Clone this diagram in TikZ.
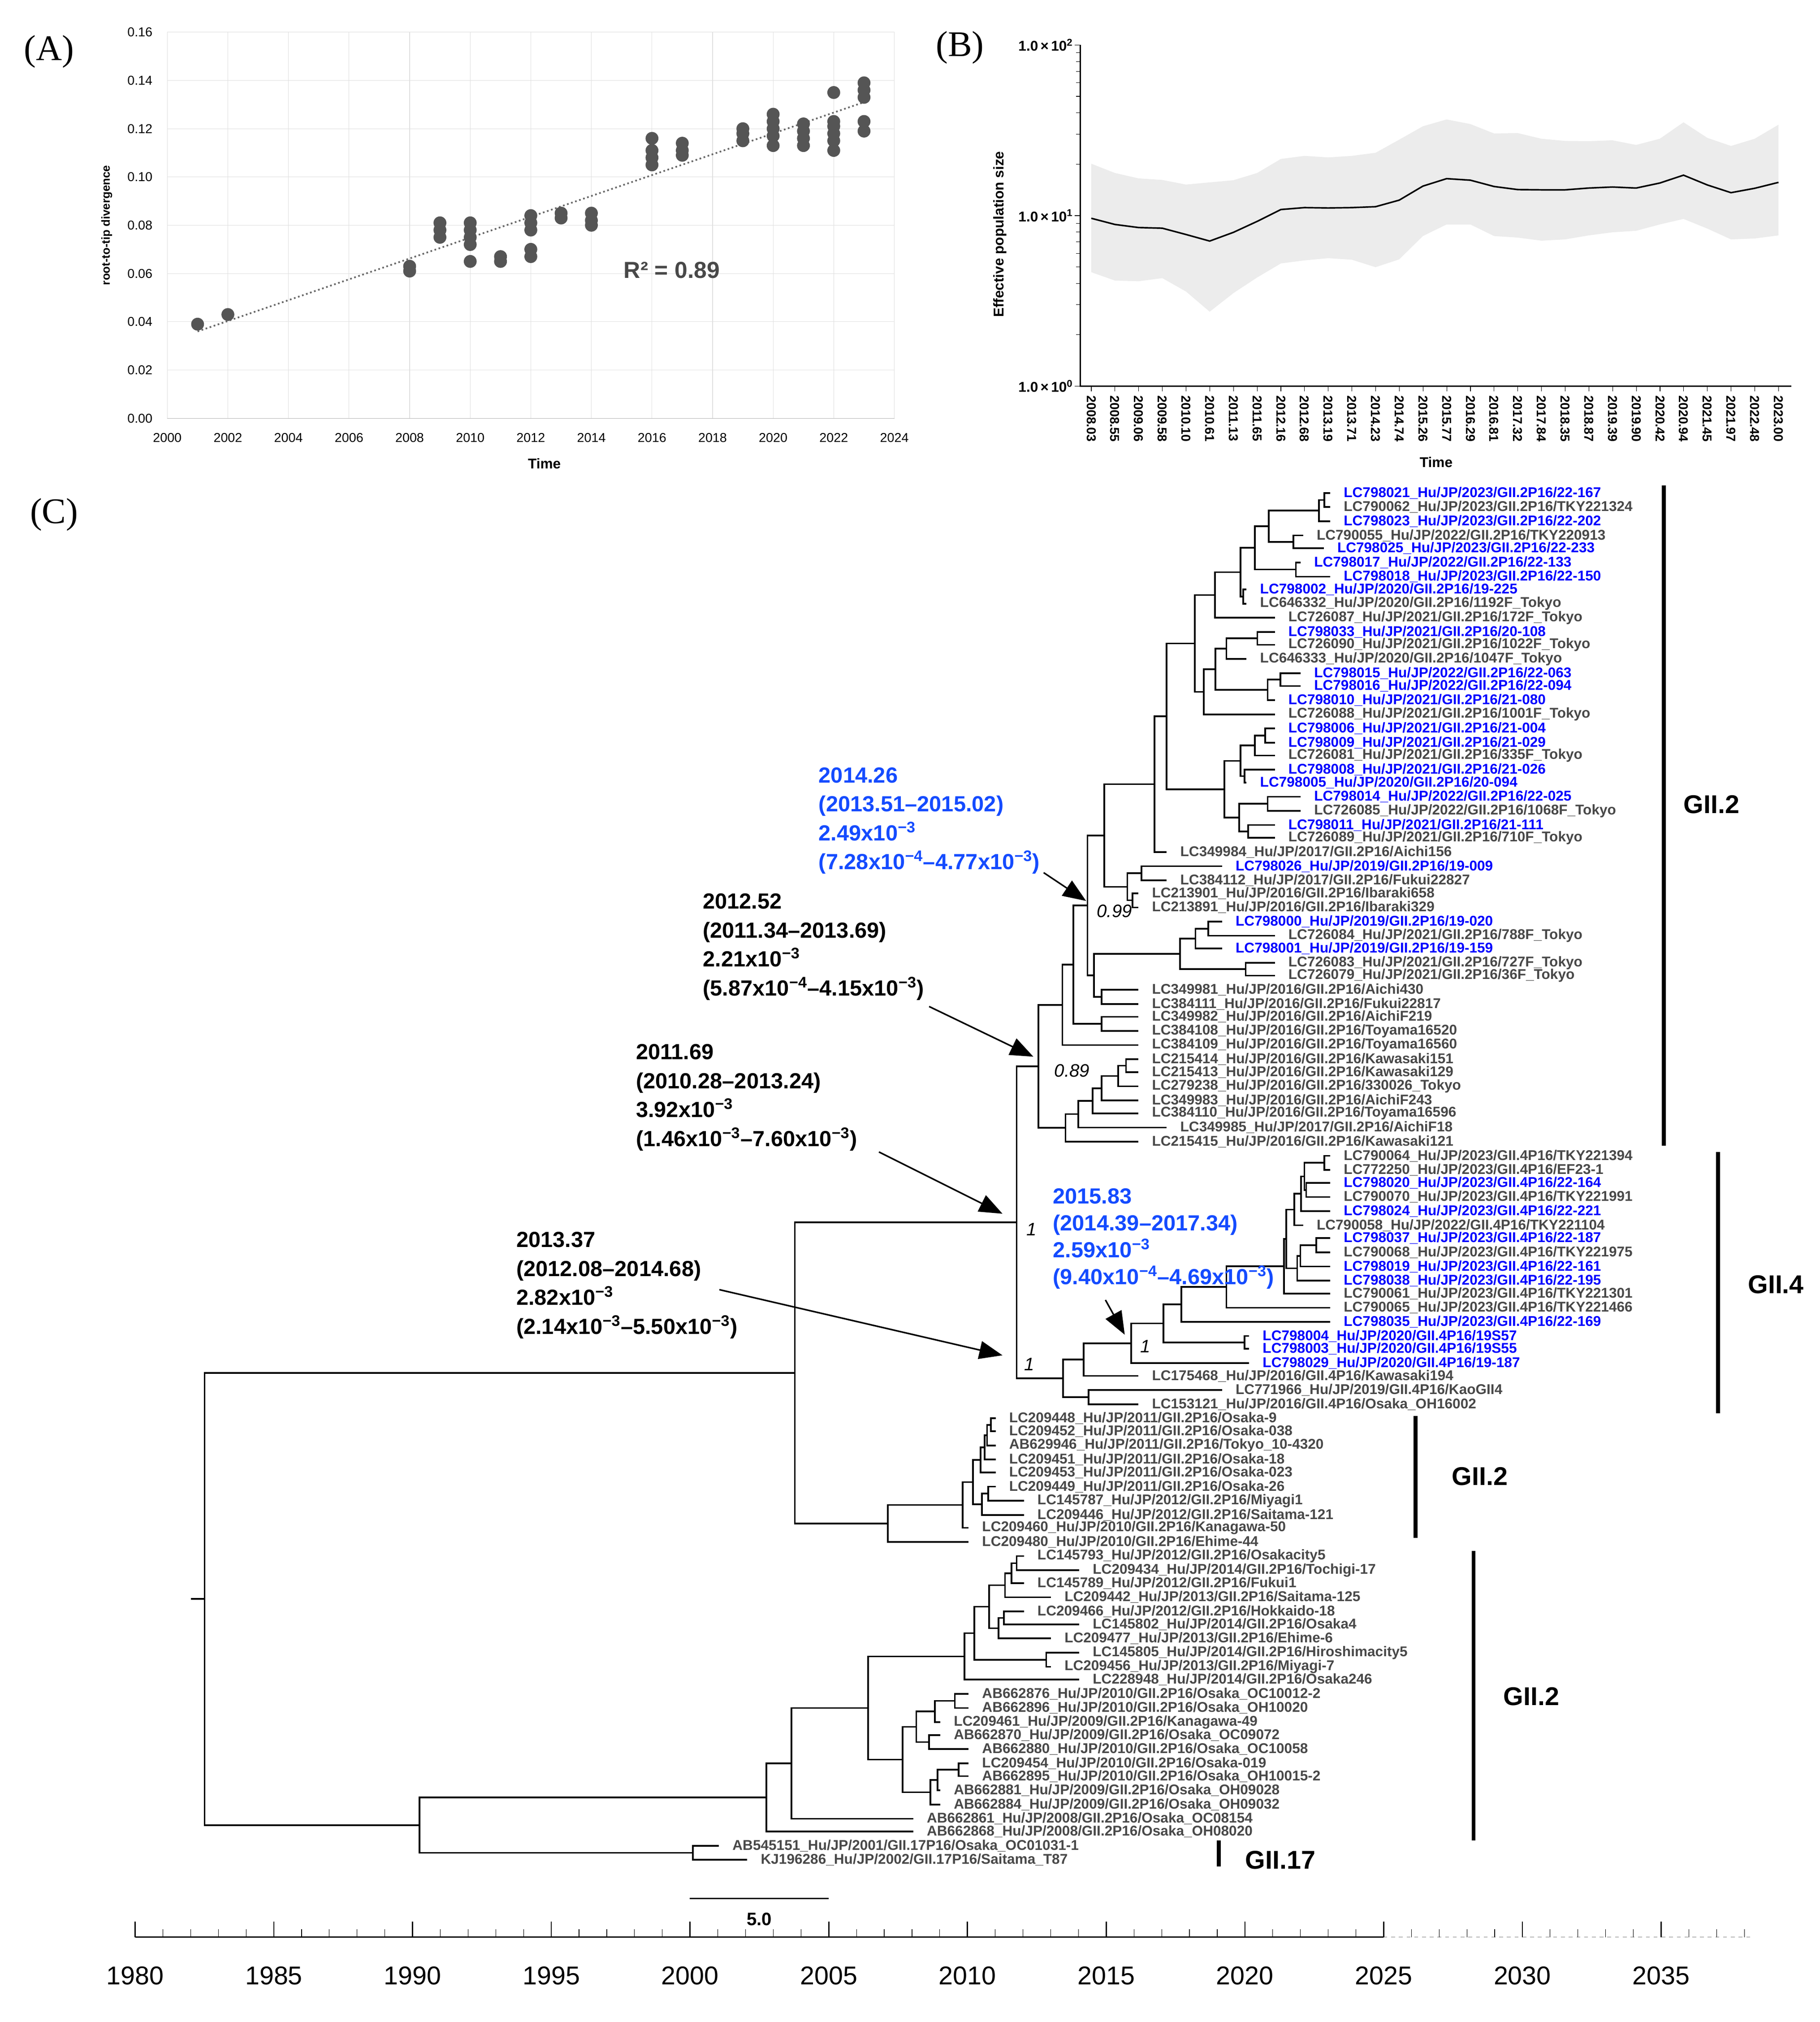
\documentclass[tikz,border=0pt]{standalone}
\usepackage{fontspec}
\setmainfont{Liberation Sans}
\newfontfamily\serifpanel{Liberation Serif}
\usetikzlibrary{calc,arrows.meta}
\definecolor{bl}{RGB}{0,0,255}
\definecolor{abl}{RGB}{20,75,255}
\definecolor{gy}{RGB}{72,72,72}
\definecolor{ptc}{RGB}{85,85,85}
\begin{document}
\begin{tikzpicture}[x=1pt,y=-1pt,
  br/.style={line width=1.3pt,black,line cap=rect},
  leaf/.style={anchor=west,inner ysep=0pt,inner xsep=11pt,font=\fontsize{11}{11}\selectfont\bfseries},
  ann/.style={anchor=north west,align=left,inner sep=0pt,font=\fontsize{17}{22.5}\selectfont\bfseries},
  sup/.style={font=\fontsize{14}{14}\selectfont\itshape,inner sep=0pt},
  arr/.style={line width=1.2pt,-{Triangle[length=18pt,width=14pt]}},
  panel/.style={font=\fontsize{28}{28}\selectfont\serifpanel},
  tick/.style={font=\fontsize{10}{10}\selectfont},
  bar/.style={line width=3pt},
  clade/.style={font=\fontsize{20}{20}\selectfont\bfseries}]
\useasboundingbox (0,0) rectangle (1414,1571);

% ---------- panel A ----------
\node[panel] (pa) at (38,40) {(A)};
\foreach \k in {0,...,12} \draw[gray!25] (130+\k*47.08,25) -- (130+\k*47.08,325);
\foreach \k in {0,...,8} \draw[gray!25] (130,325-\k*37.5) -- (695,325-\k*37.5);
\draw[gray!60] (130,325) -- (695,325);
\foreach \k in {0,...,12} {\pgfmathtruncatemacro\yr{2000+2*\k}
  \node[tick] (ax\k) at (130+\k*47.08,340) {\yr};}
\foreach \k/\t in {0/0.00,1/0.02,2/0.04,3/0.06,4/0.08,5/0.10,6/0.12,7/0.14,8/0.16}
  \node[tick,anchor=east] (ay\k) at (122,325-\k*37.5) {\t};
\node[font=\fontsize{9}{9}\selectfont\bfseries,rotate=90] (ayl) at (83,175) {root-to-tip divergence};
\node[font=\fontsize{11}{11}\selectfont\bfseries] (axl) at (423,360) {Time};
\draw[dotted,line width=1.3pt,gray!80!black] (130+1*23.54,325-0.036*1875) -- (130+23*23.54,325-0.131*1875);
\foreach \a/\b in {1/0.039,2/0.043,8/0.061,8/0.063,9/0.075,9/0.078,9/0.081,
  10/0.065,10/0.072,10/0.075,10/0.078,10/0.081,11/0.065,11/0.067,12/0.067,12/0.070,
  12/0.078,12/0.081,12/0.084,13/0.083,13/0.085,14/0.080,14/0.082,14/0.085,
  16/0.105,16/0.108,16/0.111,16/0.116,17/0.109,17/0.111,17/0.114,19/0.115,19/0.118,
  19/0.120,20/0.113,20/0.117,20/0.120,20/0.123,20/0.126,21/0.113,21/0.116,21/0.119,
  21/0.122,22/0.111,22/0.115,22/0.118,22/0.121,22/0.123,22/0.135,23/0.119,23/0.123,
  23/0.133,23/0.136,23/0.139}
  \fill[ptc] (130+\a*23.54,325-\b*1875) circle[radius=5pt];
\node[font=\fontsize{18}{18}\selectfont\bfseries,text=gy] (r2) at (522,210) {R² = 0.89};

% ---------- panel B ----------
\node[panel] (pb) at (746,37) {(B)};
\fill[gray!15] plot coordinates {(848.0,127.2)(866.4,134.4)(884.8,138.6)(903.2,139.8)(921.6,143.4)(940.0,141.7)
 (958.5,140.0)(976.9,134.4)(995.3,123.5)(1013.7,121.1)(1032.1,122.3)(1050.5,121.1)(1068.9,118.7)(1087.3,108.5)
 (1105.7,98.1)(1124.1,92.8)(1142.6,96.4)(1161.0,103.7)(1179.4,103.4)(1197.8,107.8)(1216.2,109.5)(1234.6,109.7)
 (1253.0,109.0)(1271.4,112.6)(1289.8,107.8)(1308.2,95.0)(1326.7,107.1)(1345.1,113.4)(1363.5,107.8)(1382.0,96.9)}
 -- plot coordinates {(1382.0,182.9)(1363.5,185.3)(1345.1,186.0)(1326.7,177.6)(1308.2,170.1)(1289.8,174.4)
 (1271.4,179.3)(1253.0,180.5)(1234.6,182.9)(1216.2,186.0)(1197.8,187.0)(1179.4,184.6)(1161.0,183.4)(1142.6,174.4)
 (1124.1,174.4)(1105.7,183.4)(1087.3,201.5)(1068.9,207.6)(1050.5,201.8)(1032.1,200.6)(1013.7,202.3)(995.3,204.7)
 (976.9,215.6)(958.5,227.7)(940.0,242.2)(921.6,226.5)(903.2,216.1)(884.8,218.5)(866.4,218.0)(848.0,211.5)} -- cycle;
\draw[line width=1.2pt] plot coordinates {(848.0,169.6)(866.4,174.4)(884.8,176.8)(903.2,177.3)(921.6,182.2)
 (940.0,187.3)(958.5,180.5)(976.9,172.0)(995.3,162.8)(1013.7,161.3)(1032.1,161.6)(1050.5,161.3)(1068.9,160.6)
 (1087.3,155.5)(1105.7,144.6)(1124.1,138.8)(1142.6,140.0)(1161.0,144.9)(1179.4,147.3)(1197.8,147.5)(1216.2,147.5)
 (1234.6,146.1)(1253.0,145.3)(1271.4,146.1)(1289.8,142.2)(1308.2,136.1)(1326.7,143.7)(1345.1,149.7)(1363.5,146.3)
 (1382.0,141.7)};
\draw[line width=0.8pt] (839.5,35) -- (839.5,300) -- (1392,300);
\foreach \d in {0,1} \foreach \m in {2,...,9}
  \draw (839.5,{300-(\d+log10(\m))*132.5}) -- (836,{300-(\d+log10(\m))*132.5});
\foreach \yy/\e in {35/2,167.5/1,300/0}
  {\draw (835,\yy) -- (839.5,\yy);
   \node[font=\fontsize{11}{11}\selectfont\bfseries,anchor=east,inner sep=1pt] at (835,\yy) {1.0\,×\,10\textsuperscript{\e}};}
\foreach \t [count=\i from 0] in {2008.03,2008.55,2009.06,2009.58,2010.10,2010.61,2011.13,2011.65,2012.16,
 2012.68,2013.19,2013.71,2014.23,2014.74,2015.26,2015.77,2016.29,2016.81,2017.32,2017.84,2018.35,2018.87,
 2019.39,2019.90,2020.42,2020.94,2021.45,2021.97,2022.48,2023.00}
 {\draw (848+\i*18.414,300) -- (848+\i*18.414,304);
  \node[font=\fontsize{10}{10}\selectfont\bfseries,rotate=-90,anchor=west,inner sep=1pt] at (848+\i*18.414,306) {\t};}
\node[font=\fontsize{11}{11}\selectfont\bfseries,rotate=90] (byl) at (777,182) {Effective population size};
\node[font=\fontsize{11}{11}\selectfont\bfseries] (bxl) at (1116,359) {Time};

% ---------- panel C ----------
\node[panel] (pc) at (42,400) {(C)};
\newcommand\lf[5]{\coordinate (l#1) at ({#2-6},#3);
  \node[leaf,text=#4] (n#1) at (l#1) {#5};}
\newcommand\cl[4]{\coordinate (tmp) at ($(#3)!.5!(#4)$);
  \coordinate (#1) at (#2,0 |- tmp);
  \draw[br] (#1) |- (#3); \draw[br] (#1) |- (#4);}

\lf{1}{1039}{383}{bl}{LC798021\_Hu/JP/2023/GII.2P16/22-167}
\lf{2}{1039}{394}{gy}{LC790062\_Hu/JP/2023/GII.2P16/TKY221324}
\lf{3}{1039}{405}{bl}{LC798023\_Hu/JP/2023/GII.2P16/22-202}
\lf{4}{1018}{416}{gy}{LC790055\_Hu/JP/2022/GII.2P16/TKY220913}
\lf{5}{1034}{426}{bl}{LC798025\_Hu/JP/2023/GII.2P16/22-233}
\lf{6}{1016}{437}{bl}{LC798017\_Hu/JP/2022/GII.2P16/22-133}
\lf{7}{1039}{448}{bl}{LC798018\_Hu/JP/2023/GII.2P16/22-150}
\lf{8}{974}{458}{bl}{LC798002\_Hu/JP/2020/GII.2P16/19-225}
\lf{9}{974}{469}{gy}{LC646332\_Hu/JP/2020/GII.2P16/1192F\_Tokyo}
\lf{10}{996}{480}{gy}{LC726087\_Hu/JP/2021/GII.2P16/172F\_Tokyo}
\lf{11}{996}{491}{bl}{LC798033\_Hu/JP/2021/GII.2P16/20-108}
\lf{12}{996}{501}{gy}{LC726090\_Hu/JP/2021/GII.2P16/1022F\_Tokyo}
\lf{13}{974}{512}{gy}{LC646333\_Hu/JP/2020/GII.2P16/1047F\_Tokyo}
\lf{14}{1016}{523}{bl}{LC798015\_Hu/JP/2022/GII.2P16/22-063}
\lf{15}{1016}{533}{bl}{LC798016\_Hu/JP/2022/GII.2P16/22-094}
\lf{16}{996}{544}{bl}{LC798010\_Hu/JP/2021/GII.2P16/21-080}
\lf{17}{996}{555}{gy}{LC726088\_Hu/JP/2021/GII.2P16/1001F\_Tokyo}
\lf{18}{996}{566}{bl}{LC798006\_Hu/JP/2021/GII.2P16/21-004}
\lf{19}{996}{577}{bl}{LC798009\_Hu/JP/2021/GII.2P16/21-029}
\lf{20}{996}{587}{gy}{LC726081\_Hu/JP/2021/GII.2P16/335F\_Tokyo}
\lf{21}{996}{598}{bl}{LC798008\_Hu/JP/2021/GII.2P16/21-026}
\lf{22}{974}{608}{bl}{LC798005\_Hu/JP/2020/GII.2P16/20-094}
\lf{23}{1016}{619}{bl}{LC798014\_Hu/JP/2022/GII.2P16/22-025}
\lf{24}{1016}{630}{gy}{LC726085\_Hu/JP/2022/GII.2P16/1068F\_Tokyo}
\lf{25}{996}{641}{bl}{LC798011\_Hu/JP/2021/GII.2P16/21-111}
\lf{26}{996}{651}{gy}{LC726089\_Hu/JP/2021/GII.2P16/710F\_Tokyo}
\lf{27}{912}{662}{gy}{LC349984\_Hu/JP/2017/GII.2P16/Aichi156}
\lf{28}{955}{673}{bl}{LC798026\_Hu/JP/2019/GII.2P16/19-009}
\lf{29}{912}{684}{gy}{LC384112\_Hu/JP/2017/GII.2P16/Fukui22827}
\lf{30}{890}{694}{gy}{LC213901\_Hu/JP/2016/GII.2P16/Ibaraki658}
\lf{31}{890}{705}{gy}{LC213891\_Hu/JP/2016/GII.2P16/Ibaraki329}
\lf{32}{955}{716}{bl}{LC798000\_Hu/JP/2019/GII.2P16/19-020}
\lf{33}{996}{727}{gy}{LC726084\_Hu/JP/2021/GII.2P16/788F\_Tokyo}
\lf{34}{955}{737}{bl}{LC798001\_Hu/JP/2019/GII.2P16/19-159}
\lf{35}{996}{748}{gy}{LC726083\_Hu/JP/2021/GII.2P16/727F\_Tokyo}
\lf{36}{996}{758}{gy}{LC726079\_Hu/JP/2021/GII.2P16/36F\_Tokyo}
\lf{37}{890}{769}{gy}{LC349981\_Hu/JP/2016/GII.2P16/Aichi430}
\lf{38}{890}{780}{gy}{LC384111\_Hu/JP/2016/GII.2P16/Fukui22817}
\lf{39}{890}{790}{gy}{LC349982\_Hu/JP/2016/GII.2P16/AichiF219}
\lf{40}{890}{801}{gy}{LC384108\_Hu/JP/2016/GII.2P16/Toyama16520}
\lf{41}{890}{812}{gy}{LC384109\_Hu/JP/2016/GII.2P16/Toyama16560}
\lf{42}{890}{823}{gy}{LC215414\_Hu/JP/2016/GII.2P16/Kawasaki151}
\lf{43}{890}{833}{gy}{LC215413\_Hu/JP/2016/GII.2P16/Kawasaki129}
\lf{44}{890}{844}{gy}{LC279238\_Hu/JP/2016/GII.2P16/330026\_Tokyo}
\lf{45}{890}{855}{gy}{LC349983\_Hu/JP/2016/GII.2P16/AichiF243}
\lf{46}{890}{865}{gy}{LC384110\_Hu/JP/2016/GII.2P16/Toyama16596}
\lf{47}{912}{876}{gy}{LC349985\_Hu/JP/2017/GII.2P16/AichiF18}
\lf{48}{890}{887}{gy}{LC215415\_Hu/JP/2016/GII.2P16/Kawasaki121}
\lf{49}{1039}{898}{gy}{LC790064\_Hu/JP/2023/GII.4P16/TKY221394}
\lf{50}{1039}{909}{gy}{LC772250\_Hu/JP/2023/GII.4P16/EF23-1}
\lf{51}{1039}{919}{bl}{LC798020\_Hu/JP/2023/GII.4P16/22-164}
\lf{52}{1039}{930}{gy}{LC790070\_Hu/JP/2023/GII.4P16/TKY221991}
\lf{53}{1039}{941}{bl}{LC798024\_Hu/JP/2023/GII.4P16/22-221}
\lf{54}{1018}{952}{gy}{LC790058\_Hu/JP/2022/GII.4P16/TKY221104}
\lf{55}{1039}{962}{bl}{LC798037\_Hu/JP/2023/GII.4P16/22-187}
\lf{56}{1039}{973}{gy}{LC790068\_Hu/JP/2023/GII.4P16/TKY221975}
\lf{57}{1039}{984}{bl}{LC798019\_Hu/JP/2023/GII.4P16/22-161}
\lf{58}{1039}{995}{bl}{LC798038\_Hu/JP/2023/GII.4P16/22-195}
\lf{59}{1039}{1005}{gy}{LC790061\_Hu/JP/2023/GII.4P16/TKY221301}
\lf{60}{1039}{1016}{gy}{LC790065\_Hu/JP/2023/GII.4P16/TKY221466}
\lf{61}{1039}{1027}{bl}{LC798035\_Hu/JP/2023/GII.4P16/22-169}
\lf{62}{976}{1038}{bl}{LC798004\_Hu/JP/2020/GII.4P16/19S57}
\lf{63}{976}{1048}{bl}{LC798003\_Hu/JP/2020/GII.4P16/19S55}
\lf{64}{976}{1059}{bl}{LC798029\_Hu/JP/2020/GII.4P16/19-187}
\lf{65}{890}{1069}{gy}{LC175468\_Hu/JP/2016/GII.4P16/Kawasaki194}
\lf{66}{955}{1080}{gy}{LC771966\_Hu/JP/2019/GII.4P16/KaoGII4}
\lf{67}{890}{1091}{gy}{LC153121\_Hu/JP/2016/GII.4P16/Osaka\_OH16002}
\lf{68}{779}{1102}{gy}{LC209448\_Hu/JP/2011/GII.2P16/Osaka-9}
\lf{69}{779}{1112}{gy}{LC209452\_Hu/JP/2011/GII.2P16/Osaka-038}
\lf{70}{779}{1123}{gy}{AB629946\_Hu/JP/2011/GII.2P16/Tokyo\_10-4320}
\lf{71}{779}{1134}{gy}{LC209451\_Hu/JP/2011/GII.2P16/Osaka-18}
\lf{72}{779}{1144}{gy}{LC209453\_Hu/JP/2011/GII.2P16/Osaka-023}
\lf{73}{779}{1155}{gy}{LC209449\_Hu/JP/2011/GII.2P16/Osaka-26}
\lf{74}{801}{1166}{gy}{LC145787\_Hu/JP/2012/GII.2P16/Miyagi1}
\lf{75}{801}{1177}{gy}{LC209446\_Hu/JP/2012/GII.2P16/Saitama-121}
\lf{76}{758}{1187}{gy}{LC209460\_Hu/JP/2010/GII.2P16/Kanagawa-50}
\lf{77}{758}{1198}{gy}{LC209480\_Hu/JP/2010/GII.2P16/Ehime-44}
\lf{78}{801}{1209}{gy}{LC145793\_Hu/JP/2012/GII.2P16/Osakacity5}
\lf{79}{844}{1220}{gy}{LC209434\_Hu/JP/2014/GII.2P16/Tochigi-17}
\lf{80}{801}{1230}{gy}{LC145789\_Hu/JP/2012/GII.2P16/Fukui1}
\lf{81}{822}{1241}{gy}{LC209442\_Hu/JP/2013/GII.2P16/Saitama-125}
\lf{82}{801}{1252}{gy}{LC209466\_Hu/JP/2012/GII.2P16/Hokkaido-18}
\lf{83}{844}{1262}{gy}{LC145802\_Hu/JP/2014/GII.2P16/Osaka4}
\lf{84}{822}{1273}{gy}{LC209477\_Hu/JP/2013/GII.2P16/Ehime-6}
\lf{85}{844}{1284}{gy}{LC145805\_Hu/JP/2014/GII.2P16/Hiroshimacity5}
\lf{86}{822}{1295}{gy}{LC209456\_Hu/JP/2013/GII.2P16/Miyagi-7}
\lf{87}{844}{1305}{gy}{LC228948\_Hu/JP/2014/GII.2P16/Osaka246}
\lf{88}{758}{1316}{gy}{AB662876\_Hu/JP/2010/GII.2P16/Osaka\_OC10012-2}
\lf{89}{758}{1327}{gy}{AB662896\_Hu/JP/2010/GII.2P16/Osaka\_OH10020}
\lf{90}{736}{1338}{gy}{LC209461\_Hu/JP/2009/GII.2P16/Kanagawa-49}
\lf{91}{736}{1348}{gy}{AB662870\_Hu/JP/2009/GII.2P16/Osaka\_OC09072}
\lf{92}{758}{1359}{gy}{AB662880\_Hu/JP/2010/GII.2P16/Osaka\_OC10058}
\lf{93}{758}{1370}{gy}{LC209454\_Hu/JP/2010/GII.2P16/Osaka-019}
\lf{94}{758}{1380}{gy}{AB662895\_Hu/JP/2010/GII.2P16/Osaka\_OH10015-2}
\lf{95}{736}{1391}{gy}{AB662881\_Hu/JP/2009/GII.2P16/Osaka\_OH09028}
\lf{96}{736}{1402}{gy}{AB662884\_Hu/JP/2009/GII.2P16/Osaka\_OH09032}
\lf{97}{715}{1413}{gy}{AB662861\_Hu/JP/2008/GII.2P16/Osaka\_OC08154}
\lf{98}{715}{1423}{gy}{AB662868\_Hu/JP/2008/GII.2P16/Osaka\_OH08020}
\lf{99}{564}{1434}{gy}{AB545151\_Hu/JP/2001/GII.17P16/Osaka\_OC01031-1}
\lf{100}{586}{1445}{gy}{KJ196286\_Hu/JP/2002/GII.17P16/Saitama\_T87}

% top GII.2 clade
\cl{a1}{1029}{l1}{l2}
\cl{a2}{1025}{a1}{l3}
\cl{a3}{1005}{l4}{l5}
\cl{a4}{986}{a2}{a3}
\cl{a5}{1007}{l6}{l7}
\cl{a6}{975}{a4}{a5}
\cl{a7}{966}{l8}{l9}
\cl{a8}{964}{a6}{a7}
\cl{a9}{944}{a8}{l10}
\cl{a10}{977}{l11}{l12}
\cl{a11}{953}{a10}{l13}
\cl{a12}{995}{l14}{l15}
\cl{a13}{985}{a12}{l16}
\cl{a14}{944.5}{a11}{a13}
\cl{a15}{935.5}{a14}{l17}
\cl{a16}{928.5}{a9}{a15}
\cl{a17}{983}{l18}{l19}
\cl{a18}{975}{a17}{l20}
\cl{a19}{967}{l21}{l22}
\cl{a20}{964}{a18}{a19}
\cl{a21}{985}{l23}{l24}
\cl{a22}{970}{l25}{l26}
\cl{a23}{963}{a21}{a22}
\cl{a24}{951.5}{a20}{a23}
\cl{a25}{906.6}{a16}{a24}
\cl{a26}{897}{a25}{l27}
\cl{a27}{887}{l28}{l29}
\cl{a28}{880}{l30}{l31}
\cl{a29}{876}{a27}{a28}
\cl{a30}{858}{a26}{a29}
\cl{a31}{939}{l32}{l33}
\cl{a32}{929}{a31}{l34}
\cl{a33}{968}{l35}{l36}
\cl{a34}{917}{a32}{a33}
\cl{a35}{856}{l37}{l38}
\cl{a36}{850}{a34}{a35}
\cl{a37}{845}{a30}{a36}
\cl{a38}{856}{l39}{l40}
\cl{a39}{834}{a37}{a38}
\cl{a40}{825.5}{a39}{l41}
\cl{a41}{875}{l42}{l43}
\cl{a42}{869}{a41}{l44}
\cl{a43}{856}{a42}{l45}
\cl{a44}{849}{a43}{l46}
\cl{a45}{838}{a44}{l47}
\cl{a46}{828}{a45}{l48}
\cl{T}{807}{a40}{a46}
% GII.4 clade
\cl{g1}{1029}{l49}{l50}
\cl{g2}{1015}{l51}{l52}
\cl{g3}{1013.6}{g1}{g2}
\cl{g4}{1010.9}{g3}{l53}
\cl{g5}{1005.7}{g4}{l54}
\cl{g6}{1022.7}{l55}{l56}
\cl{g7}{1010.5}{g6}{l57}
\cl{g8}{1008}{g7}{l58}
\cl{g9}{999.6}{g5}{g8}
\cl{g10}{997.7}{g9}{l59}
\cl{g11}{953}{g10}{l60}
\cl{g12}{918}{g11}{l61}
\cl{g13}{967}{l62}{l63}
\cl{g14}{904}{g12}{g13}
\cl{C4}{879}{g14}{l64}
\cl{g15}{842}{C4}{l65}
\cl{g16}{846}{l66}{l67}
\cl{G4}{826}{g15}{g16}
\cl{N1}{790}{T}{G4}
% middle GII.2
\cl{m1}{770}{l68}{l69}
\cl{m2}{767}{m1}{l70}
\cl{m3}{765}{m2}{l71}
\cl{m4}{762}{m3}{l72}
\cl{m5}{768}{l73}{l74}
\cl{m6}{763}{m5}{l75}
\cl{m7}{756}{m4}{m6}
\cl{m8}{748}{m7}{l76}
\cl{M}{690}{m8}{l77}
\cl{P}{617.6}{N1}{M}
% bottom GII.2 and GII.17
\cl{b1}{790}{l78}{l79}
\cl{b2}{786}{b1}{l80}
\cl{b3}{781}{b2}{l81}
\cl{b4}{780}{l82}{l83}
\cl{b5}{776}{b4}{l84}
\cl{b6}{768.5}{b3}{b5}
\cl{b7}{813}{l85}{l86}
\cl{b8}{757}{b6}{b7}
\cl{b9}{749.5}{b8}{l87}
\cl{b10}{742}{l88}{l89}
\cl{b11}{726.5}{b10}{l90}
\cl{b12}{722}{l91}{l92}
\cl{b13}{712}{b11}{b12}
\cl{b14}{745}{l93}{l94}
\cl{b15}{728.5}{b14}{l95}
\cl{b16}{723}{b15}{l96}
\cl{b17}{701.5}{b13}{b16}
\cl{b18}{674.5}{b9}{b17}
\cl{b19}{615}{b18}{l97}
\cl{b20}{595.6}{b19}{l98}
\cl{b21}{538.5}{l99}{l100}
\cl{B}{326}{b20}{b21}
\cl{R}{159}{P}{B}
\coordinate (r0) at ($(R)+(-10,0)$);
\draw[br] (r0) -- (R);

% support values
\node[sup] (s1) at (866,708) {0.99};
\node[sup] (s2) at (833,832) {0.89};
\node[sup] (s3) at (801.5,955) {1};
\node[sup] (s4) at (800,1060) {1};
\node[sup] (s5) at (890,1046) {1};

% node annotations
\node[ann,text=abl] (t1) at (636,596) {2014.26\\(2013.51–2015.02)\\2.49x10\textsuperscript{−3}\\(7.28x10\textsuperscript{−4}–4.77x10\textsuperscript{−3})};
\node[ann] (t2) at (546,694) {2012.52\\(2011.34–2013.69)\\2.21x10\textsuperscript{−3}\\(5.87x10\textsuperscript{−4}–4.15x10\textsuperscript{−3})};
\node[ann] (t3) at (494,811) {2011.69\\(2010.28–2013.24)\\3.92x10\textsuperscript{−3}\\(1.46x10\textsuperscript{−3}–7.60x10\textsuperscript{−3})};
\node[ann] (t4) at (401,957) {2013.37\\(2012.08–2014.68)\\2.82x10\textsuperscript{−3}\\(2.14x10\textsuperscript{−3}–5.50x10\textsuperscript{−3})};
\node[ann,text=abl,font=\fontsize{17}{21}\selectfont\bfseries] (t5) at (818,923) {2015.83\\(2014.39–2017.34)\\2.59x10\textsuperscript{−3}\\(9.40x10\textsuperscript{−4}–4.69x10\textsuperscript{−3})};
\coordinate (h1) at (844,700); \coordinate (h2) at (803,821);
\coordinate (h3) at (779,943); \coordinate (h4) at (779,1053);
\coordinate (h5) at (874,1037);
\coordinate (f1) at (811,678); \coordinate (f2) at (722,782);
\coordinate (f3) at (683,895); \coordinate (f4) at (559,1002);
\coordinate (f5) at (859,1010);
\draw[arr] (f1) -- (h1);
\draw[arr] (f2) -- (h2);
\draw[arr] (f3) -- (h3);
\draw[arr] (f4) -- (h4);
\draw[arr] (f5) -- (h5);

% clade bars
\draw[bar] (1293,377) -- (1293,890); \node[clade] (c1) at (1330,625) {GII.2};
\draw[bar] (1335,895) -- (1335,1098); \node[clade] (c2) at (1380,998) {GII.4};
\draw[bar] (1100,1100) -- (1100,1195); \node[clade] (c3) at (1150,1147) {GII.2};
\draw[bar] (1145,1205) -- (1145,1430); \node[clade] (c4) at (1190,1318) {GII.2};
\draw[bar] (947,1430) -- (947,1450); \node[clade] (c5) at (995,1445) {GII.17};

% scale bar
\draw[line width=1pt] (536,1475) -- (644,1475);
\node[font=\fontsize{14}{14}\selectfont\bfseries] (sc) at (590,1491) {5.0};

% time axis
\draw[line width=0.9pt] (105,1505) -- (1075,1505);
\draw[dashed,gray] (1075,1505) -- (1360,1505);
\foreach \k in {0,...,58} \draw (105+\k*21.56,1505) -- (105+\k*21.56,1499);
\foreach \k in {0,...,11} {\pgfmathtruncatemacro\yr{1980+5*\k}
  \draw[line width=0.9pt] (105+\k*107.8,1505) -- (105+\k*107.8,1493);
  \node[font=\fontsize{20}{20}\selectfont] at (105+\k*107.8,1535) {\yr};}
\end{tikzpicture}
\end{document}
